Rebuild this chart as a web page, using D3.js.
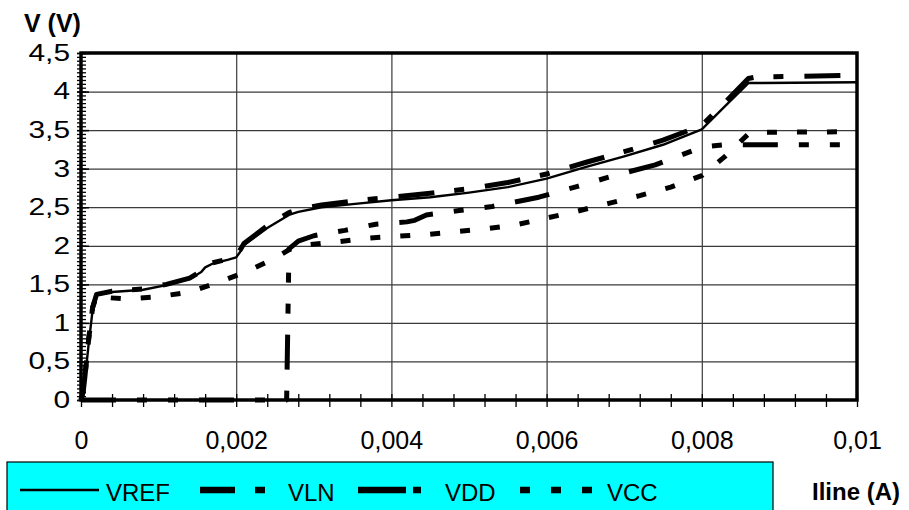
<!DOCTYPE html>
<html>
<head>
<meta charset="utf-8">
<script src="https://cdn.jsdelivr.net/npm/d3@7/dist/d3.min.js"></script>
<style>
  html, body { margin: 0; padding: 0; background: #fff; }
  svg { display: block; font-family: "Liberation Sans", Arial, sans-serif; }
</style>
</head>
<body>
<svg id="chart" width="909" height="510"></svg>
<script>
// Line current (A) and measured voltages (V)
const vrefI = [0, 0.00003, 0.00005, 0.0001, 0.00015, 0.0002, 0.0004, 0.0008, 0.0011, 0.0014, 0.00155, 0.0016, 0.0017, 0.0019, 0.002, 0.00205, 0.0021, 0.0024, 0.00268, 0.0028, 0.0031, 0.0035, 0.004, 0.0045, 0.005, 0.0055, 0.006, 0.0065, 0.007, 0.0075, 0.008, 0.0083, 0.0086, 0.01];
const vrefV = [0, 0.1, 0.26, 0.74, 1.17, 1.36, 1.40, 1.43, 1.49, 1.57, 1.66, 1.72, 1.77, 1.82, 1.85, 1.92, 2.01, 2.23, 2.40, 2.44, 2.50, 2.54, 2.59, 2.63, 2.69, 2.76, 2.87, 3.02, 3.16, 3.31, 3.51, 3.81, 4.11, 4.12];

const vlnI = [0, 0.00003, 0.00005, 0.0001, 0.00015, 0.0002, 0.0004, 0.0008, 0.0011, 0.0014, 0.00155, 0.0016, 0.0017, 0.0019, 0.002, 0.0021, 0.0024, 0.00268, 0.0028, 0.0031, 0.0035, 0.004, 0.0045, 0.005, 0.0055, 0.006, 0.0065, 0.007, 0.0075, 0.008, 0.0083, 0.0086, 0.0087, 0.01];
const vlnV = [0, 0.12, 0.3, 0.8, 1.2, 1.37, 1.41, 1.44, 1.50, 1.58, 1.67, 1.73, 1.78, 1.83, 1.86, 2.03, 2.26, 2.43, 2.47, 2.53, 2.58, 2.63, 2.68, 2.74, 2.82, 2.93, 3.08, 3.22, 3.37, 3.56, 3.86, 4.17, 4.19, 4.21];

const vddI = [0, 0.00265, 0.00268, 0.0028, 0.003, 0.0031, 0.0034, 0.0038, 0.0042, 0.0043, 0.00445, 0.0046, 0.0049, 0.0053, 0.0059, 0.0064, 0.0068, 0.0074, 0.0079, 0.008, 0.0081, 0.0083, 0.01];
const vddV = [0, 0, 1.96, 2.06, 2.13, 2.15, 2.20, 2.28, 2.31, 2.33, 2.40, 2.42, 2.46, 2.51, 2.63, 2.77, 2.89, 3.05, 3.24, 3.27, 3.29, 3.31, 3.31];

const vccI = [0, 0.00003, 0.00005, 0.0001, 0.00015, 0.0002, 0.0003, 0.0006, 0.001, 0.0014, 0.00175, 0.0021, 0.0025, 0.0027, 0.0029, 0.0033, 0.0036, 0.004, 0.0045, 0.0048, 0.0052, 0.0056, 0.006, 0.0064, 0.0068, 0.0072, 0.0076, 0.008, 0.0083, 0.0086, 0.0087, 0.01];
const vccV = [0, 0.12, 0.3, 0.8, 1.2, 1.35, 1.33, 1.31, 1.34, 1.40, 1.52, 1.65, 1.84, 1.96, 2.01, 2.05, 2.09, 2.12, 2.15, 2.18, 2.22, 2.27, 2.36, 2.45, 2.55, 2.65, 2.76, 2.91, 3.16, 3.45, 3.47, 3.48];

const seriesNames = ["VREF", "VLN", "VDD", "VCC"];
const xTicks = [0, 0.002, 0.004, 0.006, 0.008, 0.01];
const xMinorTicks = d3.range(0, 26).map(i => i * 0.0004);
const yTicks = [0, 0.5, 1, 1.5, 2, 2.5, 3, 3.5, 4, 4.5];
const yMinorTicks = d3.range(0, 91).map(i => i * 0.05);

const svg = d3.select("#chart");
const L = 81, R = 857, T = 53, B = 400;

const x = d3.scaleLinear().domain([0, 0.01]).range([L, R]);
const y = d3.scaleLinear().domain([0, 4.5]).range([B, T]);

const locale = d3.formatLocale({ decimal: ",", thousands: ".", grouping: [3], currency: ["", ""] });
const fmt = locale.format("~g");

// grid
svg.append("g")
  .attr("transform", `translate(0,${B})`)
  .call(d3.axisBottom(x).tickValues(xTicks.slice(1, -1)).tickSize(-(B - T)).tickFormat(""))
  .call(g => g.select(".domain").remove())
  .call(g => g.selectAll("line").attr("stroke", "#3a3a3a").attr("stroke-width", 1.2));
svg.append("g")
  .attr("transform", `translate(${L},0)`)
  .call(d3.axisLeft(y).tickValues(yTicks.slice(1, -1)).tickSize(-(R - L)).tickFormat(""))
  .call(g => g.select(".domain").remove())
  .call(g => g.selectAll("line").attr("stroke", "#3a3a3a").attr("stroke-width", 1.2));

// series
const line = d3.line().x(d => x(d[0])).y(d => y(d[1]));
const zip = (a, b) => a.map((v, i) => [v, b[i]]);
const series = [
  { name: "VCC", data: zip(vccI, vccV), width: 5, dash: "10,20" },
  { name: "VDD", data: zip(vddI, vddV), width: 5, dash: "35,21,10,21,10,21" },
  { name: "VLN", data: zip(vlnI, vlnV), width: 5, dash: "36,20,10,21" },
  { name: "VREF", data: zip(vrefI, vrefV), width: 2.4, dash: null }
];
svg.append("g").selectAll("path").data(series).join("path")
  .attr("d", d => line(d.data))
  .attr("fill", "none")
  .attr("stroke", "#000")
  .attr("stroke-width", d => d.width)
  .attr("stroke-dasharray", d => d.dash)
  .attr("stroke-linejoin", "round");

// frame
svg.append("rect").attr("x", L).attr("y", T).attr("width", R - L).attr("height", B - T)
  .attr("fill", "none").attr("stroke", "#000").attr("stroke-width", 3.5);

// y axis ticks (crossing the axis line)
svg.append("g").attr("transform", `translate(${L + 5},0)`)
  .call(d3.axisLeft(y).tickValues(yMinorTicks).tickSize(9).tickFormat(""))
  .call(g => g.select(".domain").remove())
  .call(g => g.selectAll("line").attr("stroke", "#000").attr("stroke-width", 1.3));
svg.append("g").attr("transform", `translate(${L + 8},0)`)
  .call(d3.axisLeft(y).tickValues(yTicks).tickSize(12).tickFormat(""))
  .call(g => g.select(".domain").remove())
  .call(g => g.selectAll("line").attr("stroke", "#000").attr("stroke-width", 1.5));

// y labels
const ySX = 1.3;
svg.append("g").attr("transform", `translate(${L},0)`)
  .call(d3.axisLeft(y).tickValues(yTicks).tickSize(0).tickPadding(11).tickFormat(fmt))
  .call(g => g.select(".domain").remove())
  .call(g => g.selectAll("text")
    .attr("font-size", 23).attr("fill", "#000")
    .attr("font-family", "Liberation Sans, Arial, sans-serif")
    .attr("x", -11 / ySX)
    .attr("transform", `scale(${ySX},1)`));

// x axis ticks (crossing the axis line)
svg.append("g").attr("transform", `translate(0,${B - 6})`)
  .call(d3.axisBottom(x).tickValues(xMinorTicks).tickSize(13).tickFormat(""))
  .call(g => g.select(".domain").remove())
  .call(g => g.selectAll("line").attr("stroke", "#000").attr("stroke-width", 1.3));

// x labels
svg.append("g").attr("transform", `translate(0,${B})`)
  .call(d3.axisBottom(x).tickValues(xTicks).tickSize(0).tickPadding(31).tickFormat(fmt))
  .call(g => g.select(".domain").remove())
  .call(g => g.selectAll("text")
    .attr("font-size", 25).attr("fill", "#000")
    .attr("font-family", "Liberation Sans, Arial, sans-serif"));

// titles
svg.append("text").attr("x", 24).attr("y", 32)
  .attr("font-size", 25).attr("font-weight", "bold").text("V (V)");
svg.append("text").attr("x", 812).attr("y", 500)
  .attr("font-size", 24).attr("font-weight", "bold").text("Iline (A)");

// legend
const lg = svg.append("g");
lg.append("rect").attr("x", 7).attr("y", 462).attr("width", 766).attr("height", 60)
  .attr("fill", "#00ffff").attr("stroke", "#000").attr("stroke-width", 1.2);
const legendItems = [
  { name: seriesNames[0], x0: 20, x1: 99, w: 2.4, dash: null, tx: 106 },
  { name: seriesNames[1], x0: 200, x1: 265, w: 6.5, dash: "35,20,10", tx: 288 },
  { name: seriesNames[2], x0: 358, x1: 421, w: 6.5, dash: "48,7,8", tx: 445 },
  { name: seriesNames[3], x0: 520, x1: 592, w: 6.5, dash: "10,21", tx: 607 }
];
const ly = 490;
lg.selectAll("line").data(legendItems).join("line")
  .attr("x1", d => d.x0).attr("x2", d => d.x1).attr("y1", ly).attr("y2", ly)
  .attr("stroke", "#000").attr("stroke-width", d => d.w).attr("stroke-dasharray", d => d.dash);
lg.selectAll("text").data(legendItems).join("text")
  .attr("x", d => d.tx).attr("y", 501).attr("font-size", 24).text(d => d.name);
</script>
</body>
</html>
